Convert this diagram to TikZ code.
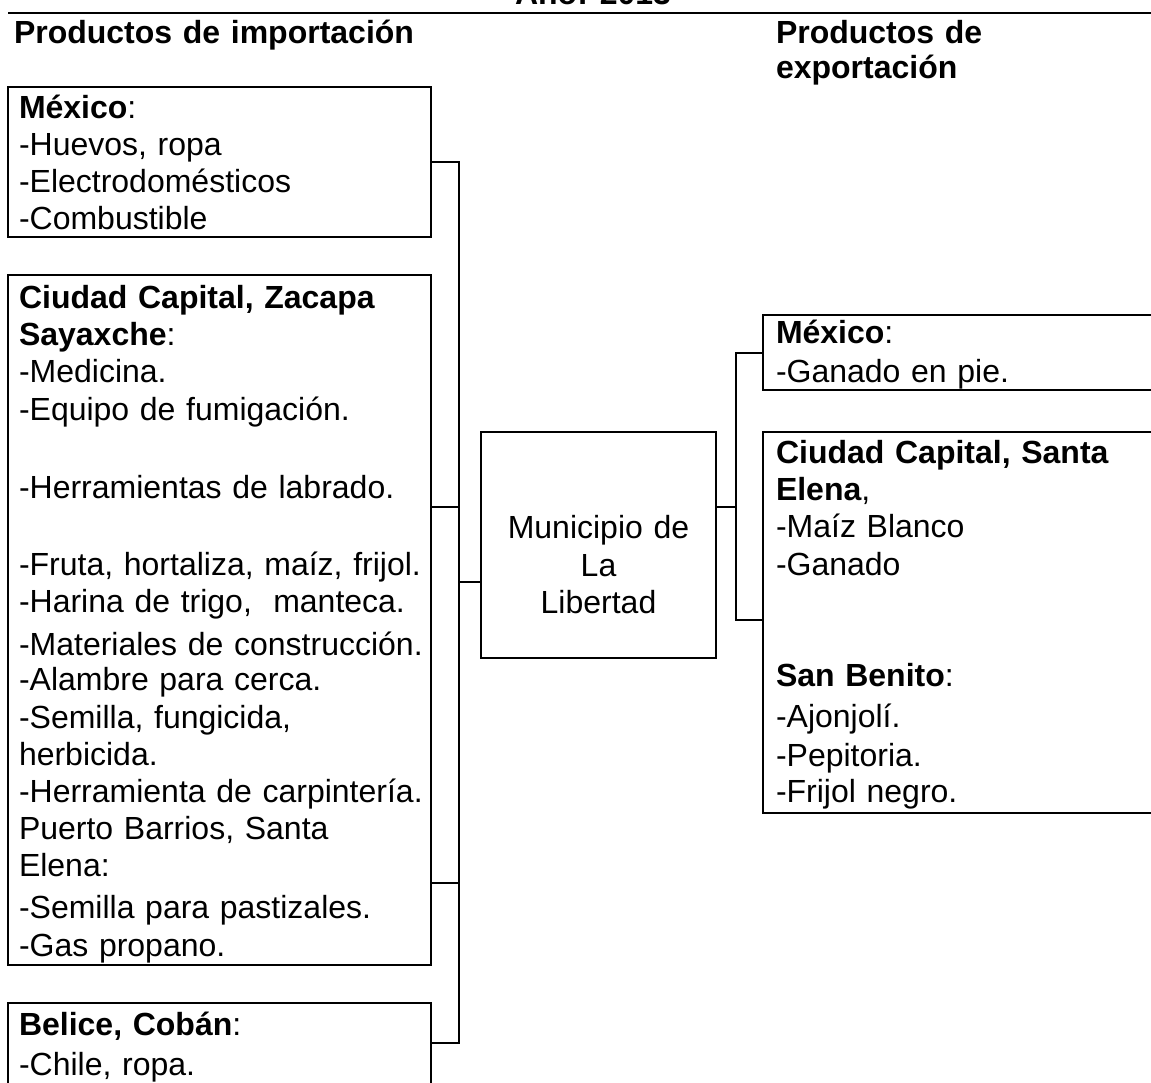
\documentclass[tikz,border=0pt]{standalone}
\usepackage{fontspec}
\setmainfont{Liberation Sans}
\usetikzlibrary{calc}
\begin{document}
\begin{tikzpicture}[x=0.5pt,y=-0.5pt,line width=1pt,
	font=\fontsize{16pt}{18.5pt}\selectfont,
	caja/.style={draw,anchor=north west,inner sep=0pt,outer sep=0pt},
	lista/.style={anchor=base west,align=left,inner sep=0pt,text width=#1},
	lista/.default=220pt]
	\path[fill=white,use as bounding box] (0,0) rectangle (1151,1082);
	\clip (0,0) rectangle (1151,1082);
	% encabezado
	\node[anchor=base,inner sep=0pt,font=\fontsize{16pt}{18.5pt}\selectfont\bfseries] (anio) at (593,4.5) {Año: 2013};
	\draw (8,12.5) -- (1151,12.5);
	\node[lista] (timp) at (13,43) {\textbf{Productos de importación}};
	\node[lista=200pt] (texp) at (775,43) {\textbf{Productos de}\\[-1pt]\textbf{exportación}};
	% importacion
	\node[caja,minimum width=211.5pt,minimum height=75pt] (imp1) at (8,87) {};
	\node[lista] (l1) at ($(imp1.north west)+(10,31)$) {\textbf{México}:\\
		-Huevos, ropa\\
		-Electrodomésticos\\
		-Combustible};
	\node[caja,minimum width=211.5pt,minimum height=345pt] (imp2) at (8,275) {};
	\node[lista] (l2) at ($(imp2.north west)+(10,33)$) {\textbf{Ciudad Capital, Zacapa}\\
		\textbf{Sayaxche}:\\
		-Medicina.\\[0.5pt]
		-Equipo de fumigación.\\[20.5pt]
		-Herramientas de labrado.\\[20pt]
		-Fruta, hortaliza, maíz, frijol.\\
		-Harina de trigo,~ manteca.\\[3pt]
		-Materiales de construcción.\\[-1pt]
		-Alambre para cerca.\\[0.5pt]
		-Semilla, fungicida,\\
		herbicida.\\
		-Herramienta de carpintería.\\
		Puerto Barrios, Santa\\
		Elena:\\[2.5pt]
		-Semilla para pastizales.\\[0.5pt]
		-Gas propano.};
	\node[caja,minimum width=211.5pt,minimum height=60pt] (imp3) at (8,1003) {};
	\node[lista] (l3) at ($(imp3.north west)+(10,32)$) {\textbf{Belice, Cobán}:\\[1.5pt]
		-Chile, ropa.};
	% municipio
	\node[caja,minimum width=117.5pt,minimum height=113pt] (mun) at (481,432) {};
	\node[anchor=base,align=center,inner sep=0pt,text width=110pt] (tmun) at ($(mun.north)+(0,106)$) {Municipio de\\[0.5pt]La\\Libertad};
	% exportacion
	\node[caja,minimum width=200pt,minimum height=37.5pt] (exp1) at (763,315) {};
	\node[lista=190pt] (r1) at ($(exp1.north west)+(12,28)$) {\textbf{México}:\\[1pt]
		-Ganado en pie.};
	\node[caja,minimum width=200pt,minimum height=190.5pt] (exp2) at (763,432) {};
	\node[lista=190pt] (r2) at ($(exp2.north west)+(12,31)$) {\textbf{Ciudad Capital, Santa}\\
		\textbf{Elena},\\
		-Maíz Blanco\\[0.5pt]
		-Ganado\\[37pt]
		\textbf{San Benito}:\\[2pt]
		-Ajonjolí.\\[1pt]
		-Pepitoria.\\[-0.5pt]
		-Frijol negro.};
	% conectores
	\coordinate (lb) at (459,1043);
	\coordinate (j1) at (459,507);
	\coordinate (j2) at (459,883);
	\coordinate (j3) at (459,582);
	\draw (imp1.east) -| (lb) -- (lb -| imp3.east);
	\draw (j1 -| imp2.east) -- (j1);
	\draw (j2 -| imp2.east) -- (j2);
	\draw (j3) -- (j3 -| mun.west);
	\coordinate (rb) at (736,620);
	\coordinate (k1) at (736,507);
	\draw (exp1.west) -| (rb) -- (rb -| exp2.west);
	\draw (k1 -| mun.east) -- (k1);
\end{tikzpicture}
\end{document}
